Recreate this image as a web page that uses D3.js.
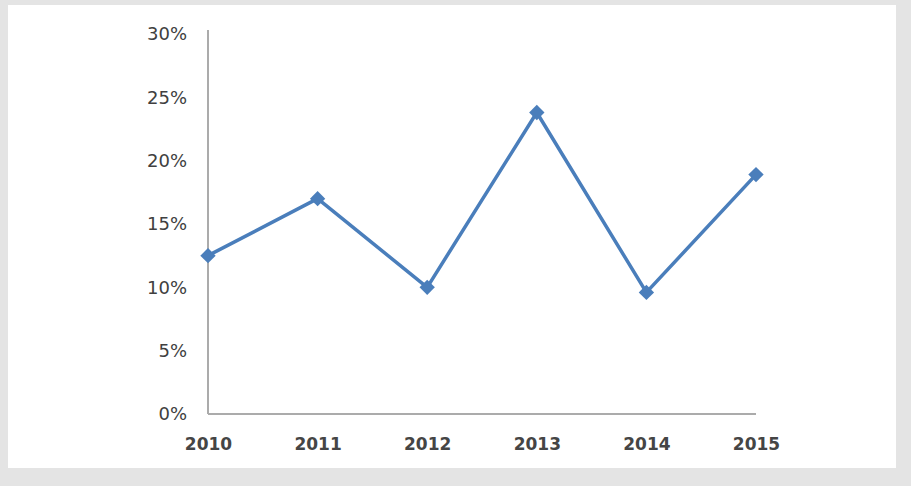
<!DOCTYPE html>
<html>
<head>
<meta charset="utf-8">
<script src="https://cdn.jsdelivr.net/npm/d3@7"></script>
<style>
  html, body { margin: 0; padding: 0; background: #e4e4e4; }
  svg { display: block; }
</style>
</head>
<body>
<svg id="chart" width="911" height="486"></svg>
<script>
const years = ["2010", "2011", "2012", "2013", "2014", "2015"];
const values = [0.125, 0.17, 0.10, 0.238, 0.096, 0.189];
const yTicks = [0, 0.05, 0.10, 0.15, 0.20, 0.25, 0.30];

(function () {
const svg = d3.select("#chart");
svg.append("rect").attr("x", 0).attr("y", 0).attr("width", 911).attr("height", 486).attr("fill", "#e4e4e4");
svg.append("rect").attr("x", 8).attr("y", 5).attr("width", 888).attr("height", 463).attr("fill", "#ffffff");

const mLeft = 208, mRight = 756, mTop = 34, mBottom = 414;
const x = d3.scalePoint().domain(years).range([mLeft, mRight]);
const y = d3.scaleLinear().domain([0, 0.30]).range([mBottom, mTop]);

const font = "'DejaVu Sans', sans-serif";

// y axis
const yAxis = svg.append("g").attr("transform", `translate(${mLeft},0)`)
  .call(d3.axisLeft(y).tickValues(yTicks).tickSize(0).tickPadding(21)
    .tickFormat(d => Math.round(d * 100) + "%"));
yAxis.select(".domain").attr("stroke", "#ababab").attr("stroke-width", 2).attr("d", `M0,${mTop - 4}V${mBottom}`);
yAxis.selectAll("text").attr("font-family", font).attr("font-size", 18).attr("fill", "#404040");

// x axis
const xAxis = svg.append("g").attr("transform", `translate(0,${mBottom})`)
  .call(d3.axisBottom(x).tickSize(0).tickPadding(24));
xAxis.select(".domain").attr("stroke", "#ababab").attr("stroke-width", 2).attr("d", `M${mLeft},0H${mRight}`);
xAxis.selectAll("text").attr("font-family", font).attr("font-size", 17).attr("font-weight", "bold").attr("fill", "#454545");

// line
const data = years.map((yr, i) => ({ yr, v: values[i] }));
svg.append("path").datum(data)
  .attr("fill", "none").attr("stroke", "#4a7ebb").attr("stroke-width", 3.5)
  .attr("stroke-linejoin", "round")
  .attr("d", d3.line().x(d => x(d.yr)).y(d => y(d.v)));

svg.selectAll(".pt").data(data).enter().append("path")
  .attr("class", "pt")
  .attr("transform", d => `translate(${x(d.yr)},${y(d.v)})`)
  .attr("d", d3.symbol().type(d3.symbolDiamond2).size(150))
  .attr("fill", "#4a7ebb");
})();
</script>
</body>
</html>
